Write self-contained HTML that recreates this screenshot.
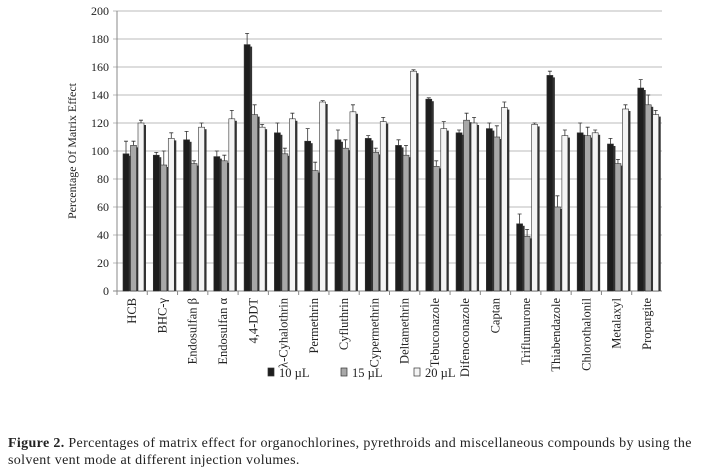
<!DOCTYPE html>
<html><head><meta charset="utf-8"><style>
body{margin:0;background:#fff;width:723px;height:475px;overflow:hidden;font-family:"Liberation Serif",serif;}
svg text{font-family:"Liberation Serif",serif;}
#cap{position:absolute;left:8px;top:435px;width:705px;font-size:14px;letter-spacing:0.35px;line-height:17px;color:#222;}
</style></head><body>
<svg id="chart" width="723" height="430" style="position:absolute;left:0;top:0"></svg>
<div id="cap"><b>Figure 2.</b> Percentages of matrix effect for organochlorines, pyrethroids and miscellaneous compounds by using the solvent vent mode at different injection volumes.</div>
<script>
const categories=["HCB","BHC-γ","Endosulfan β","Endosulfan α","4,4-DDT","λ-Cyhalothrin","Permethrin","Cyfluthrin","Cypermethrin","Deltamethrin","Tebuconazole","Difenoconazole","Captan","Triflumurone","Thiabendazole","Chlorothalonil","Metalaxyl","Propargite"];
const s10=[98,97,108,96,176,113,107,108,109,104,137,113,116,48,154,113,105,145];
const s15=[104,90,91,93,126,98,86,102,99,97,89,122,110,39,60,111,91,133];
const s20=[120,109,117,123,117,123,135,128,121,157,116,120,131,119,111,113,130,126];
const e10=[9,2,6,4,8,7,9,7,2,4,1,2,4,7,3,7,4,6];
const e15=[3,10,2,4,7,4,6,6,3,7,4,5,8,5,8,6,3,7];
const e20=[2,4,3,6,2,4,1,5,3,1,5,4,4,1,4,2,3,3];
const yTicks=[0,20,40,60,80,100,120,140,160,180,200];
const series=[{d:s10,e:e10,fill:"#1e1e1e",name:"10 µL"},{d:s15,e:e15,fill:"#a8a8a8",name:"15 µL"},{d:s20,e:e20,fill:"#f4f4f4",name:"20 µL"}];
const NS="http://www.w3.org/2000/svg",svg=document.getElementById("chart");
const X0=117,X1=662,Y0=291,Y1=11;
const y=v=>Y0-(v/200)*(Y0-Y1);
const bw=(X1-X0)/categories.length;
const x=i=>X0+i*bw;
function mk(t,a,p){const e=document.createElementNS(NS,t);for(const k in a)e.setAttribute(k,a[k]);(p||svg).appendChild(e);return e;}
yTicks.forEach(t=>{
 const g=mk("line",{x1:X0-4,x2:X1,y1:y(t),y2:y(t),stroke:t?"#bbb":"#888","stroke-width":1});
 
 
 const l=mk("text",{x:X0-8,y:y(t)+4,"text-anchor":"end","font-size":12,fill:"#222"});l.textContent=t;
 
 
});
const ax=mk("line",{x1:X0,x2:X0,y1:Y1,y2:Y0,stroke:"#888"});


const yt=mk("text",{transform:"translate(76,151) rotate(-90)","text-anchor":"middle","font-size":12,fill:"#222"});yt.textContent="Percentage Of Matrix Effect";


categories.forEach((c,i)=>{
 const tk=mk("line",{x1:x(i),x2:x(i),y1:Y0,y2:Y0+4,stroke:"#888"});
 
 
 series.forEach((s,j)=>{
  const w=6,bx=x(i)+6+j*(w+1.5),top=y(s.d[i]);
  const sh=mk("rect",{x:bx+2,y:top+2,width:w,height:Y0-top-2,fill:"#333"});
  
  
  const r=mk("rect",{x:bx,y:top,width:w,height:Y0-top,fill:s.fill,stroke:"#333","stroke-width":0.6});
  
  
  const et=y(s.d[i]+s.e[i]);
  const eb=mk("path",{d:`M${bx+w/2},${top}V${et}M${bx+w/2-2},${et}H${bx+w/2+2}`,stroke:"#333","stroke-width":0.8,fill:"none"});
  
  
 });
 const t=mk("text",{transform:`translate(${x(i)+bw/2+4},298) rotate(-90)`,"text-anchor":"end","font-size":12.5,fill:"#222"});t.textContent=c;
 
 
});
series.forEach((s,j)=>{
 const lx=268+j*73;
 const sw=mk("rect",{x:lx,y:368,width:6,height:8,fill:s.fill,stroke:"#333","stroke-width":0.7});
 
 
 const lt=mk("text",{x:lx+11,y:377,"font-size":12.5,fill:"#222"});lt.textContent=s.name;
 
 
});
</script>
</body></html>
